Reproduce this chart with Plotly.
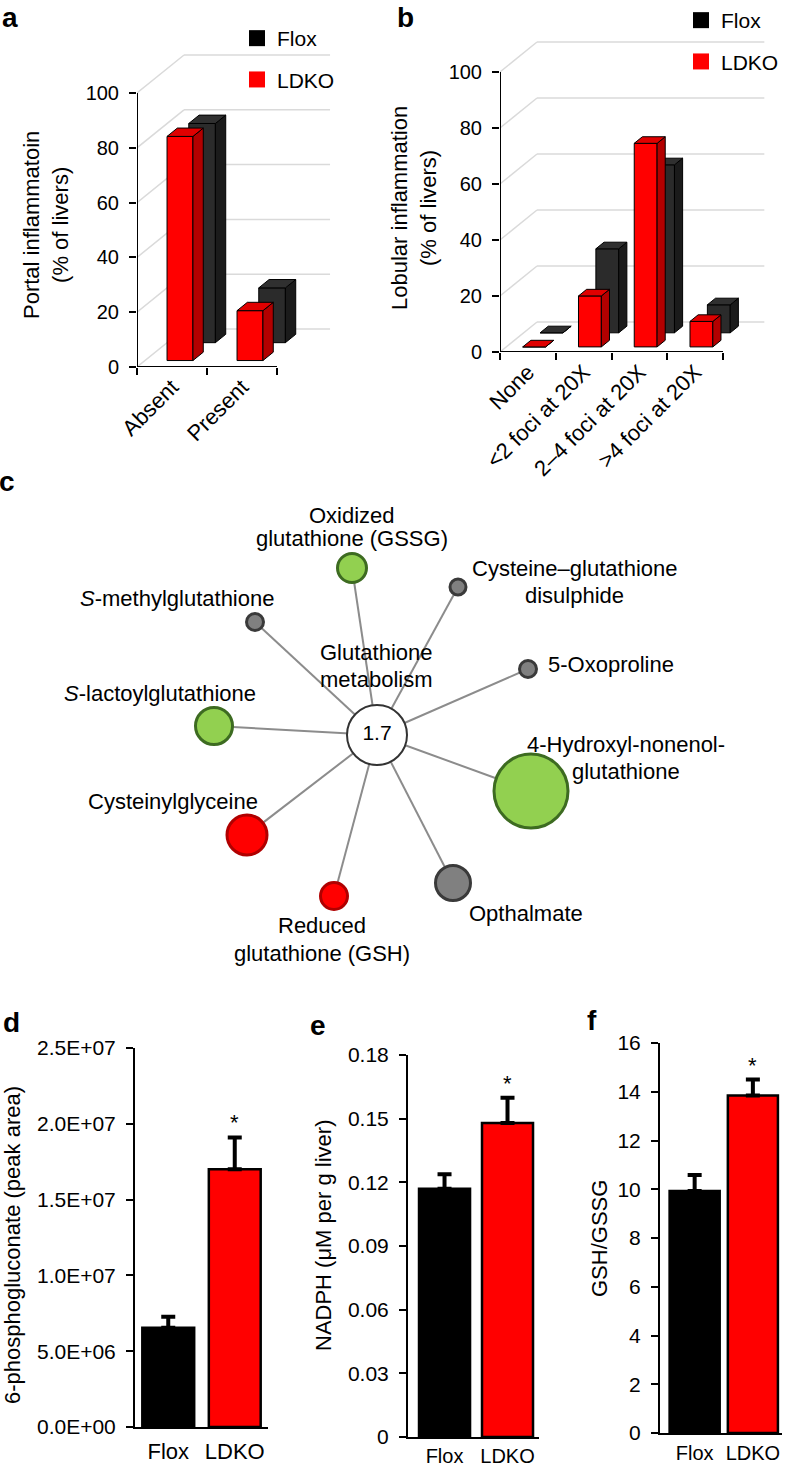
import plotly.graph_objects as go

W, H = 788, 1466
FONT = "Liberation Sans, Arial, sans-serif"

# ---------------- data ----------------
# panel a
a_categories = ["Absent", "Present"]
a_flox = [80.0, 20.0]
a_ldko = [81.8, 18.2]
a_yticks = [0, 20, 40, 60, 80, 100]

# panel b
b_categories = ["None", "&lt;2 foci at 20X", "2–4 foci at 20X", "&gt;4 foci at 20X"]
b_flox = [0.0, 30.0, 60.0, 10.0]
b_ldko = [0.0, 18.2, 72.7, 9.1]
b_yticks = [0, 20, 40, 60, 80, 100]

# panel c (network)
c_center_label = "1.7"
c_nodes = ["Oxidized glutathione (GSSG)", "Cysteine–glutathione disulphide",
           "S-methylglutathione", "5-Oxoproline", "S-lactoylglutathione",
           "4-Hydroxyl-nonenol-glutathione", "Cysteinylglyceine",
           "Reduced glutathione (GSH)", "Opthalmate"]
c_direction = ["decrease", "ns", "ns", "ns", "decrease", "decrease",
               "increase", "increase", "ns"]
c_node_size = [32, 19, 20, 20, 40, 77, 43, 30, 38]

# panels d, e, f
groups = ["Flox", "LDKO"]
d_means = [6.55e6, 1.70e7]
d_err = [0.72e6, 2.1e6]
d_yticks = [0, 5e6, 1e7, 1.5e7, 2e7, 2.5e7]
d_yticktext = ["0.0E+00", "5.0E+06", "1.0E+07", "1.5E+07", "2.0E+07", "2.5E+07"]

e_means = [0.117, 0.148]
e_err = [0.0068, 0.0118]
e_yticks = [0, 0.03, 0.06, 0.09, 0.12, 0.15, 0.18]
e_yticktext = ["0", "0.03", "0.06", "0.09", "0.12", "0.15", "0.18"]

f_means = [9.93, 13.85]
f_err = [0.65, 0.65]
f_yticks = [0, 2, 4, 6, 8, 10, 12, 14, 16]

# ---------------- layout helpers ----------------
def px(x):
    return x / W

def py(y):
    return 1 - y / H

RED = "#FF0000"
FLOX_FACES = ("#2B2B2B", "#1B1B1B", "#303030")
LDKO_FACES = ("#FF0000", "#B30000", "#E00000")

fig = go.Figure()


def setup_3d_panel(n, xa, ya, x0px, ppx, y0px, ppy, right_px, top_px,
                   categories, yticks, DX, DY):
    xr = (right_px - x0px) / ppx
    yr = (y0px - top_px) / ppy
    xkey = "xaxis" + ("" if xa == "x" else xa[1:])
    ykey = "yaxis" + ("" if ya == "y" else ya[1:])
    fig.layout[xkey] = dict(
        domain=[px(x0px), px(right_px)], range=[0, xr], anchor=ya, automargin=False,
        showgrid=False, zeroline=False, showline=False,
        tickvals=[i + 0.5 for i in range(n)], ticktext=categories,
        ticks="", tickangle=-45, ticklabelstandoff=2,
        tickfont=dict(size=22, color="black", family=FONT),
        minor=dict(tickvals=list(range(n + 1)), ticks="outside", ticklen=7,
                   tickwidth=2, tickcolor="black", showgrid=False),
        fixedrange=True)
    fig.layout[ykey] = dict(
        domain=[py(y0px), py(top_px)], range=[0, yr], anchor=xa, automargin=False,
        showgrid=False, zeroline=False, showline=False,
        tickvals=yticks, ticks="outside", ticklen=7, tickwidth=2,
        tickcolor="black", ticklabelstandoff=6,
        tickfont=dict(size=20, color="black", family=FONT), fixedrange=True)
    # back-wall gridlines and side diagonals
    for t in yticks:
        fig.add_shape(type="line", xref=xa, yref=ya, x0=0, y0=t, x1=DX, y1=t + DY,
                      line=dict(color="#DADADA", width=1.5), layer="below")
        fig.add_shape(type="line", xref=xa, yref=ya, x0=DX, y0=t + DY, x1=xr * 0.99,
                      y1=t + DY, line=dict(color="#DADADA", width=1.5), layer="below")


def add_axis_lines(xa, ya, n, yticks):
    fig.add_trace(go.Scatter(x=[0, n], y=[0, 0], mode="lines", xaxis=xa, yaxis=ya,
                             line=dict(color="black", width=2), cliponaxis=False,
                             showlegend=False, hoverinfo="skip"))
    fig.add_trace(go.Scatter(x=[0, 0], y=[0, max(yticks)], mode="lines", xaxis=xa,
                             yaxis=ya, line=dict(color="black", width=2),
                             cliponaxis=False, showlegend=False, hoverinfo="skip"))


def poly(xa, ya, xs, ys, color):
    fig.add_trace(go.Scatter(x=xs + [xs[0]], y=ys + [ys[0]], fill="toself",
                             fillcolor=color, mode="lines",
                             line=dict(color="black", width=1), xaxis=xa, yaxis=ya,
                             showlegend=False, hoverinfo="skip"))


def add_3d_row(xa, ya, values, depth0, faces, DX, DY, width, thick):
    """Oblique-projection 3D columns; every face is computed from the values."""
    front, side, top = faces
    base = depth0 * DY
    ddx, ddy = thick * DX, thick * DY
    for i, v in enumerate(values):
        xc = i + 0.5 + depth0 * DX
        xl, xrt = xc - width / 2, xc + width / 2
        y0, y1 = base, base + v
        poly(xa, ya, [xl, xrt, xrt, xl], [y0, y0, y1, y1], front)
        poly(xa, ya, [xrt, xrt + ddx, xrt + ddx, xrt], [y0, y0 + ddy, y1 + ddy, y1], side)
        poly(xa, ya, [xl, xrt, xrt + ddx, xl + ddx], [y1, y1, y1 + ddy, y1 + ddy], top)


def add_legend_items(xa, ya, legend_name):
    fig.add_trace(go.Scatter(x=[None], y=[None], mode="markers", name="Flox",
                             marker=dict(symbol="square", size=16, color="black"),
                             xaxis=xa, yaxis=ya, legend=legend_name,
                             legendgroup=legend_name + "f"))
    fig.add_trace(go.Scatter(x=[None], y=[None], mode="markers", name="LDKO",
                             marker=dict(symbol="square", size=16, color=RED),
                             xaxis=xa, yaxis=ya, legend=legend_name,
                             legendgroup=legend_name + "l"))


# ---------------- panel a ----------------
A_DX, A_DY = 47 / 70, 38 / 2.74
setup_3d_panel(2, "x", "y", 137, 70, 367, 2.74, 332, 40, a_categories, a_yticks, A_DX, A_DY)
add_3d_row("x", "y", a_flox, 0.64, FLOX_FACES, A_DX, A_DY, 0.38, 0.22)
add_3d_row("x", "y", a_ldko, 0.17, LDKO_FACES, A_DX, A_DY, 0.37, 0.22)
add_axis_lines("x", "y", 2, a_yticks)
add_legend_items("x", "y", "legend")

# ---------------- panel b ----------------
B_DX, B_DY = 37 / 55.75, 30 / 2.8
setup_3d_panel(4, "x2", "y2", 500, 55.75, 352, 2.8, 767, 30, b_categories, b_yticks, B_DX, B_DY)
add_3d_row("x2", "y2", b_flox, 0.64, FLOX_FACES, B_DX, B_DY, 0.41, 0.22)
add_3d_row("x2", "y2", b_ldko, 0.17, LDKO_FACES, B_DX, B_DY, 0.41, 0.22)
add_axis_lines("x2", "y2", 4, b_yticks)
add_legend_items("x2", "y2", "legend2")

# ---------------- panel c ----------------
C_TOP, C_BOT = 462, 980
fig.layout["xaxis3"] = dict(domain=[0, 1], range=[0, W], visible=False, anchor="y3",
                            automargin=False, fixedrange=True)
fig.layout["yaxis3"] = dict(domain=[py(C_BOT), py(C_TOP)], range=[C_BOT, C_TOP],
                            visible=False, anchor="x3", automargin=False,
                            fixedrange=True)
# network layout (positions of nodes in the diagram)
c_center_xy = (377, 735)
c_node_x = [352, 458, 255, 528, 214, 531, 247, 334, 453]
c_node_y = [568, 587, 622, 669, 726, 791, 835, 896, 883]
dir_fill = {"decrease": "#92D050", "ns": "#808080", "increase": "#FF0000"}
dir_line = {"decrease": "#3D6B21", "ns": "#3A3A3A", "increase": "#B00000"}

ex, ey = [], []
for nx_, ny_ in zip(c_node_x, c_node_y):
    ex += [c_center_xy[0], nx_, None]
    ey += [c_center_xy[1], ny_, None]
fig.add_trace(go.Scatter(x=ex, y=ey, mode="lines", line=dict(color="#8C8C8C", width=2),
                         xaxis="x3", yaxis="y3", showlegend=False, hoverinfo="skip"))
LW = 3
fig.add_trace(go.Scatter(
    x=c_node_x, y=c_node_y, mode="markers", xaxis="x3", yaxis="y3",
    text=c_nodes, hoverinfo="text", showlegend=False,
    marker=dict(size=[s - LW for s in c_node_size],
                color=[dir_fill[d] for d in c_direction],
                line=dict(color=[dir_line[d] for d in c_direction], width=LW),
                opacity=1)))
fig.add_trace(go.Scatter(
    x=[c_center_xy[0]], y=[c_center_xy[1]], mode="markers+text", xaxis="x3", yaxis="y3",
    text=[c_center_label], textposition="middle center",
    textfont=dict(size=21, color="black", family=FONT), showlegend=False,
    hoverinfo="skip",
    marker=dict(size=60, color="white", line=dict(color="#333333", width=2))))

c_label_lines = [
    ("Oxidized", 352, 515), ("glutathione (GSSG)", 352, 538),
    ("Cysteine–glutathione", 574, 568), ("disulphide", 574, 595),
    ("<i>S</i>-methylglutathione", 177, 598),
    ("Glutathione", 376, 652), ("metabolism", 376, 679),
    ("5-Oxoproline", 611, 664),
    ("<i>S</i>-lactoylglutathione", 160, 693),
    ("4-Hydroxyl-nonenol-", 626, 744), ("glutathione", 626, 771),
    ("Cysteinylglyceine", 173, 801),
    ("Opthalmate", 526, 913),
    ("Reduced", 322, 925), ("glutathione (GSH)", 322, 953),
]
for txt, lx, ly in c_label_lines:
    fig.add_annotation(x=lx, y=ly, xref="x3", yref="y3", text=txt, showarrow=False,
                       xanchor="center", yanchor="middle",
                       font=dict(size=22, color="black", family=FONT))

# ---------------- panels d, e, f ----------------
def bar_panel(xa, ya, xl_px, xr_px, ytop_px, y0_px, xrange, ymax, means, errs,
              yticks, yticktext, width, xstandoff, xfont):
    xkey = "xaxis" + xa[1:]
    ykey = "yaxis" + ya[1:]
    fig.layout[xkey] = dict(domain=[px(xl_px), px(xr_px)], range=xrange, anchor=ya,
                            type="category", showgrid=False, zeroline=False,
                            automargin=False,
                            showline=True, linecolor="black", linewidth=2, ticks="",
                            ticklabelstandoff=xstandoff,
                            tickfont=dict(size=xfont, color="black", family=FONT),
                            fixedrange=True)
    fig.layout[ykey] = dict(domain=[py(y0_px), py(ytop_px)], range=[0, ymax], anchor=xa,
                            showgrid=False, zeroline=False, showline=True,
                            automargin=False,
                            linecolor="black", linewidth=2, ticks="outside", ticklen=7,
                            tickwidth=2, tickcolor="black", tickvals=yticks,
                            ticktext=yticktext, ticklabelstandoff=6,
                            tickfont=dict(size=21, color="black", family=FONT),
                            fixedrange=True)
    fig.add_trace(go.Bar(
        x=groups, y=means, width=width, xaxis=xa, yaxis=ya, showlegend=False,
        marker=dict(color=["black", RED], line=dict(color="black", width=2.5)),
        error_y=dict(type="data", array=errs, arrayminus=[0] * len(errs),
                     symmetric=False, color="black", thickness=4, width=7)))
    fig.add_annotation(x=groups[1], y=means[1] + errs[1], xref=xa, yref=ya, text="*",
                       showarrow=False, xanchor="center", yanchor="bottom",
                       font=dict(size=22, color="black", family=FONT))


bar_panel("x4", "y4", 135, 268, 1048, 1427, [-0.5, 1.5], 2.5e7, d_means, d_err,
          d_yticks, d_yticktext, 0.78, 4, 22)
bar_panel("x5", "y5", 408, 539, 1055, 1437, [-0.58, 1.5], 0.18, e_means, e_err,
          e_yticks, e_yticktext, 0.81, 0, 20)
bar_panel("x6", "y6", 660, 782, 1043, 1433, [-0.595, 1.5], 16, f_means, f_err,
          f_yticks, [str(v) for v in f_yticks], 0.86, 1, 20)

# ---------------- axis titles ----------------
def ytitle(text, xpx, ypx, size=22):
    fig.add_annotation(x=px(xpx), y=py(ypx), xref="paper", yref="paper", text=text,
                       textangle=-90, showarrow=False, xanchor="center",
                       yanchor="middle", font=dict(size=size, color="black", family=FONT))

ytitle("Portal inflammatoin<br>(% of livers)", 46, 225)
ytitle("Lobular inflammation<br>(% of livers)", 414, 208)
ytitle("6-phosphogluconate (peak area)", 12, 1245)
ytitle("NADPH (μM per g liver)", 323, 1236)
ytitle("GSH/GSSG", 599, 1239)

# ---------------- panel letters ----------------
for letter, lx, ly in [("a", 10, 18), ("b", 405, 18), ("c", 7, 482),
                       ("d", 11, 1022), ("e", 318, 1025), ("f", 592, 1020)]:
    fig.add_annotation(x=px(lx), y=py(ly), xref="paper", yref="paper",
                       text="<b>" + letter + "</b>", showarrow=False,
                       xanchor="center", yanchor="middle",
                       font=dict(size=28, color="black", family=FONT))

legend_common = dict(xanchor="left", yanchor="top", bgcolor="rgba(0,0,0,0)",
                     font=dict(size=21, color="black", family=FONT),
                     traceorder="grouped", tracegroupgap=11, borderwidth=0)
fig.update_layout(
    template="none",
    width=W, height=H, margin=dict(l=0, r=0, t=0, b=0, pad=0, autoexpand=False),
    paper_bgcolor="white", plot_bgcolor="white", barmode="overlay",
    showlegend=True,
    legend=dict(x=px(237), y=py(18), **legend_common),
    legend2=dict(x=px(681), y=py(0), **legend_common),
    font=dict(family=FONT, color="black"),
)

fig.write_html(
    "out.html",
    config={"displayModeBar": False, "staticPlot": False},
    post_script="document.body.style.margin='0px';document.body.style.overflow='hidden';",
)
